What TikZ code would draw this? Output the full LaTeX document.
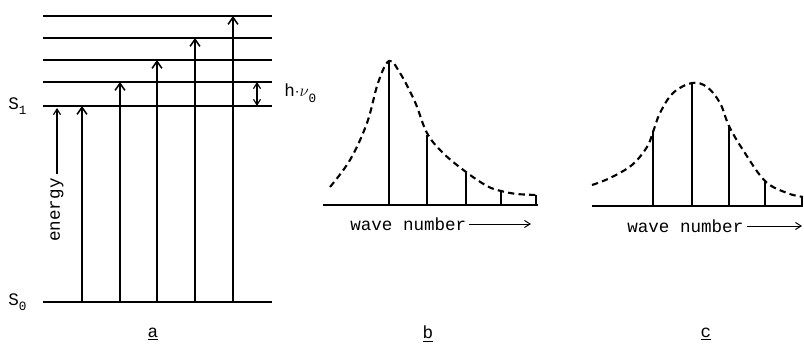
\documentclass[tikz,border=0pt]{standalone}
\usepackage{fontspec}
\setmonofont{Liberation Mono}
\usepackage{tikz}
\usetikzlibrary{arrows.meta,positioning,calc}

\begin{document}
\begin{tikzpicture}[x=0.025cm,y=-0.025cm,>={Straight Barb[length=5pt,width=7pt]},
    every node/.style={font=\ttfamily\fontsize{12.5}{14}\selectfont,inner sep=0pt}]
    \useasboundingbox (0,0) rectangle (804,346);
    \tikzset{level/.style={line width=0.8pt},state/.style={line width=1.7pt},
      trans/.style={->,line width=1.1pt},
      band/.style={line width=1.5pt,dash pattern=on 4.5pt off 3pt},
      peak/.style={line width=1.3pt},axisln/.style={line width=0.9pt}}
    % a: levels
    \coordinate (S0l) at (43,302); \coordinate (S0r) at (272,302);
    \coordinate (S1l) at (43,106); \coordinate (S1r) at (272,106);
    \draw[state] (S0l) -- (S0r);
    \draw[state] (S1l) -- (S1r);
    \foreach \i/\y in {1/82,2/60,3/38,4/16}{
      \coordinate (v\i l) at (43,\y); \coordinate (v\i r) at (272,\y);
      \draw[level] (v\i l) -- (v\i r); }
    \foreach \i/\x/\y in {0/82/106,1/120/82,2/157/60,3/195/38,4/233/16}{
      \coordinate (g\i) at (\x,302); \coordinate (e\i) at (\x,\y);
      \draw[trans] (g\i) -- (e\i); }
    \node[anchor=west] (s1) at (8,106) {S\raisebox{-.6ex}{\small 1}};
    \node[anchor=west] (s0) at (8,302) {S\raisebox{-.6ex}{\small 0}};
    \node[rotate=90] (en) at (57,210) {energy};
    \coordinate (entop) at (57,108);
    \draw[->,line width=0.8pt,>={Straight Barb[length=4pt,width=5pt]}] ([yshift=3pt]en.east) -- (entop);
    \coordinate (hvt) at (257,82); \coordinate (hvb) at (257,106);
    \draw[<->,line width=0.8pt,>={Straight Barb[length=4pt,width=5pt]}] (hvt) -- (hvb);
    \node[anchor=west] (hv) at (284,93) {h$\cdot$$\nu$\raisebox{-.6ex}{\small 0}};
    \node (la) at (153,334) {\underline{a}};
    % b: asymmetric band
    \coordinate (bl) at (323,205); \coordinate (br) at (538,205);
    \draw[axisln] (bl) -- (br);
    \foreach \i/\x/\y in {0/389/61,1/427/135,2/466/173,3/501/192,4/536/195}{
      \coordinate (bb\i) at (\x,205); \coordinate (bt\i) at (\x,\y);
      \draw[peak] (bb\i) -- (bt\i); }
    \draw[band] plot[smooth,tension=0.6] coordinates {(330,187) (350,160) (367,123)
      (378,83) (389,61) (400,73) (415,102) (427,133) (443,153) (466,172)
      (487,186) (501,191) (517,194) (537,195)};
    \node[anchor=west] (wnb) at (350,224) {wave number};
    \coordinate (wnbe) at (531,224);
    \draw[->,line width=0.7pt,>={Straight Barb[length=4pt,width=5pt]}] ([xshift=2pt]wnb.east) -- (wnbe);
    \node (lb) at (428,334) {\underline{b}};
    % c: symmetric band
    \coordinate (cl) at (592,206); \coordinate (cr) at (803,206);
    \draw[line width=1.3pt] (cl) -- (cr);
    \foreach \i/\x/\y in {0/653/132,1/692/83,2/729/126,3/765/182,4/802/197}{
      \coordinate (cb\i) at (\x,206); \coordinate (ct\i) at (\x,\y);
      \draw[peak] (cb\i) -- (ct\i); }
    \draw[band] plot[smooth,tension=0.6] coordinates {(592,185) (610,178) (632,165)
      (647,147) (653,132) (660,113) (673,93) (692,83) (707,87) (720,103)
      (729,126) (743,150) (765,181) (787,193) (803,197)};
    \node[anchor=west] (wnc) at (627,226) {wave number};
    \coordinate (wncs) at (747,226); \coordinate (wnce) at (802,226);
    \draw[->,line width=0.7pt,>={Straight Barb[length=4pt,width=5pt]}] (wncs) -- (wnce);
    \node (lc) at (706,334) {\underline{c}};
\end{tikzpicture}
\end{document}
